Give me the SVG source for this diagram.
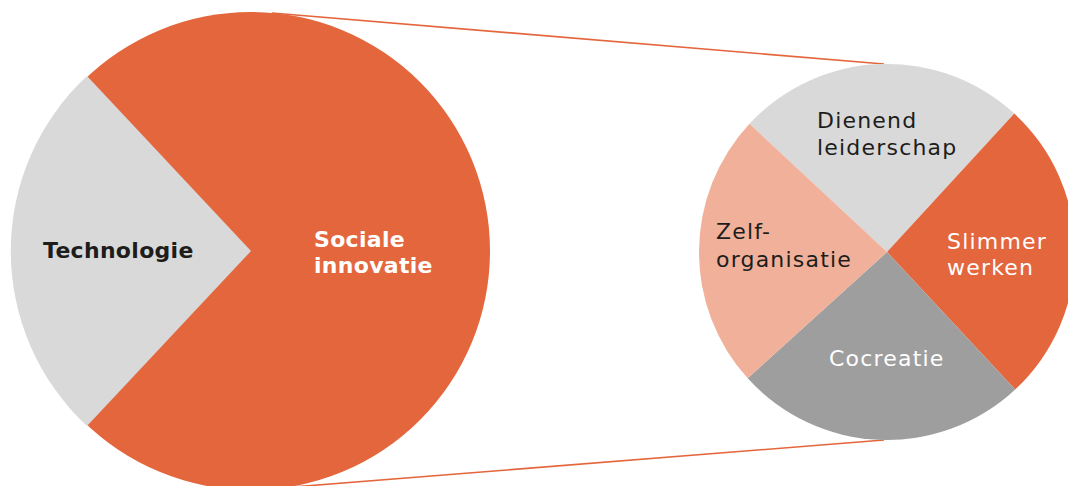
<svg xmlns="http://www.w3.org/2000/svg" width="1068" height="486" viewBox="0 0 1068 486">
<style>
.lbl{font-family:"DejaVu Sans","Liberation Sans",sans-serif;font-size:22px;letter-spacing:1.2px}
.b{font-weight:bold;letter-spacing:0.3px}
.dark{fill:#1d1d1b}
.white{fill:#ffffff}
.or{fill:#E4663D}
.lg{fill:#D9D9D9}
.dg{fill:#9E9E9E}
.sa{fill:#F0B09A}
.conn{stroke:#E4663D;stroke-width:1.6;fill:none}
</style>
<rect width="1068" height="486" fill="#ffffff"/>
<g id="connectors">
<line class="conn" x1="272" y1="13" x2="884" y2="64"/>
<line class="conn" x1="280" y1="488" x2="884" y2="440"/>
</g>
<g id="big-circle">
<circle class="or" cx="251" cy="251" r="239"/>
<path class="lg" d="M251,251 L87,76 A239,239 0 0 0 87,426 Z"/>
</g>
<g id="technologie">
<text class="lbl b dark" x="43" y="258">Technologie</text>
</g>
<g id="sociale-innovatie">
<text class="lbl b white" x="314" y="247">Sociale</text>
<text class="lbl b white" x="314" y="273">innovatie</text>
</g>
<g id="small-circle">
<path class="lg" d="M887,252 L749.5,123.8 A188,188 0 0 1 1014.3,113.6 Z"/>
<path class="or" d="M887,252 L1014.3,113.6 A188,188 0 0 1 1015.2,389.5 Z"/>
<path class="dg" d="M887,252 L1015.2,389.5 A188,188 0 0 1 747.7,378.3 Z"/>
<path class="sa" d="M887,252 L747.7,378.3 A188,188 0 0 1 749.5,123.8 Z"/>
</g>
<g id="dienend-leiderschap">
<text class="lbl dark" x="817" y="128">Dienend</text>
<text class="lbl dark" x="817" y="155">leiderschap</text>
</g>
<g id="zelforganisatie">
<text class="lbl dark" x="716" y="239">Zelf-</text>
<text class="lbl dark" x="716" y="267">organisatie</text>
</g>
<g id="slimmer-werken">
<text class="lbl white" x="947" y="249">Slimmer</text>
<text class="lbl white" x="947" y="275">werken</text>
</g>
<g id="cocreatie">
<text class="lbl white" x="829" y="366">Cocreatie</text>
</g>
</svg>
